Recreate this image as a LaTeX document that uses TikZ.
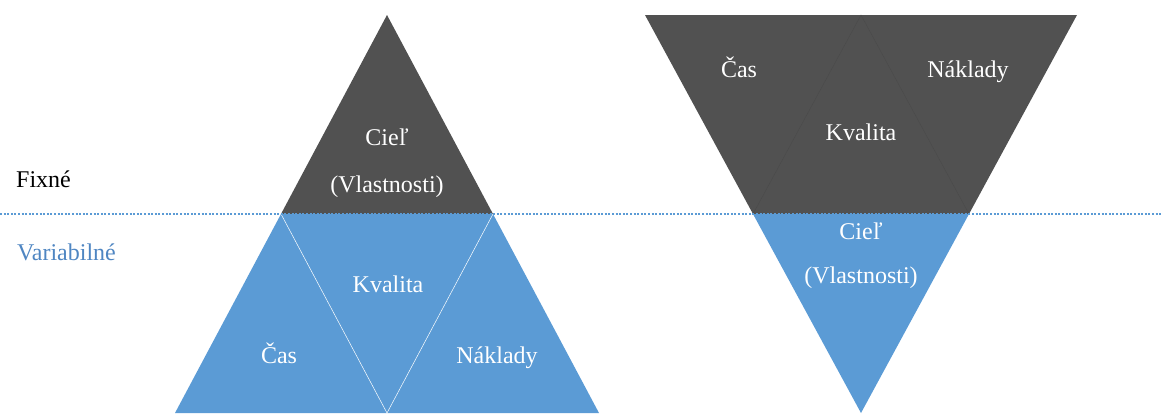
\documentclass[tikz,border=0pt]{standalone}
\usepackage{fontspec}
\setmainfont{Liberation Serif}
\definecolor{darkfill}{HTML}{515151}
\definecolor{bluefill}{HTML}{5B9BD5}
\definecolor{bluetext}{HTML}{4F86C2}
\definecolor{innerdark}{HTML}{4A4A4A}
\tikzset{
  lbl/.style={anchor=base, text=white, font=\fontsize{24}{29}\selectfont, inner sep=0pt},
  sidelbl/.style={anchor=base west, font=\fontsize{24}{29}\selectfont, inner sep=0pt},
  divider/.style={bluefill, line width=1.1pt, dash pattern=on 2pt off 1.6pt},
  whiteline/.style={white, line width=0.5pt},
  darkline/.style={innerdark, line width=0.4pt}
}
\begin{document}
\begin{tikzpicture}[x=1pt,y=-1pt]
\useasboundingbox (0,0) rectangle (1163,413);
% left triangle coordinates
\coordinate (LA) at (387,15);
\coordinate (LML) at (281,214);
\coordinate (LMR) at (493,214);
\coordinate (LBL) at (175,413);
\coordinate (LBR) at (599,413);
\coordinate (LBM) at (387,413);
% right triangle coordinates
\coordinate (RTL) at (645,15);
\coordinate (RTR) at (1077,15);
\coordinate (RTM) at (861,15);
\coordinate (RML) at (753,214);
\coordinate (RMR) at (969,214);
\coordinate (RB) at (861,413);
% divider ends
\coordinate (DL) at (0,214);
\coordinate (DR) at (1163,214);

% left triangle
\fill[darkfill] (LA) -- (LML) -- (LMR) -- cycle;
\fill[bluefill] (LML) -- (LMR) -- (LBR) -- (LBL) -- cycle;
\draw[whiteline] (LML) -- (LBM) -- (LMR);

% right triangle
\fill[darkfill] (RTL) -- (RTR) -- (RMR) -- (RML) -- cycle;
\fill[bluefill] (RML) -- (RMR) -- (RB) -- cycle;
\draw[darkline] (RML) -- (RTM) -- (RMR);

% divider
\draw[divider] (DL) -- (DR);

% left labels
\node[lbl] (lciel) at (387,145) {Cieľ};
\node[lbl] (lvlast) at (387,192) {(Vlastnosti)};
\node[lbl] (lkval) at (388,292) {Kvalita};
\node[lbl] (lcas) at (279,363) {Čas};
\node[lbl] (lnakl) at (497,363) {Náklady};

% right labels
\node[lbl] (rcas) at (739,77) {Čas};
\node[lbl] (rnakl) at (968,77) {Náklady};
\node[lbl] (rkval) at (861,140) {Kvalita};
\node[lbl] (rciel) at (861,239) {Cieľ};
\node[lbl] (rvlast) at (861,283) {(Vlastnosti)};

% side labels
\node[sidelbl] (fix) at (16,187) {Fixné};
\node[sidelbl, text=bluetext] (var) at (17,260) {Variabilné};
\end{tikzpicture}
\end{document}
